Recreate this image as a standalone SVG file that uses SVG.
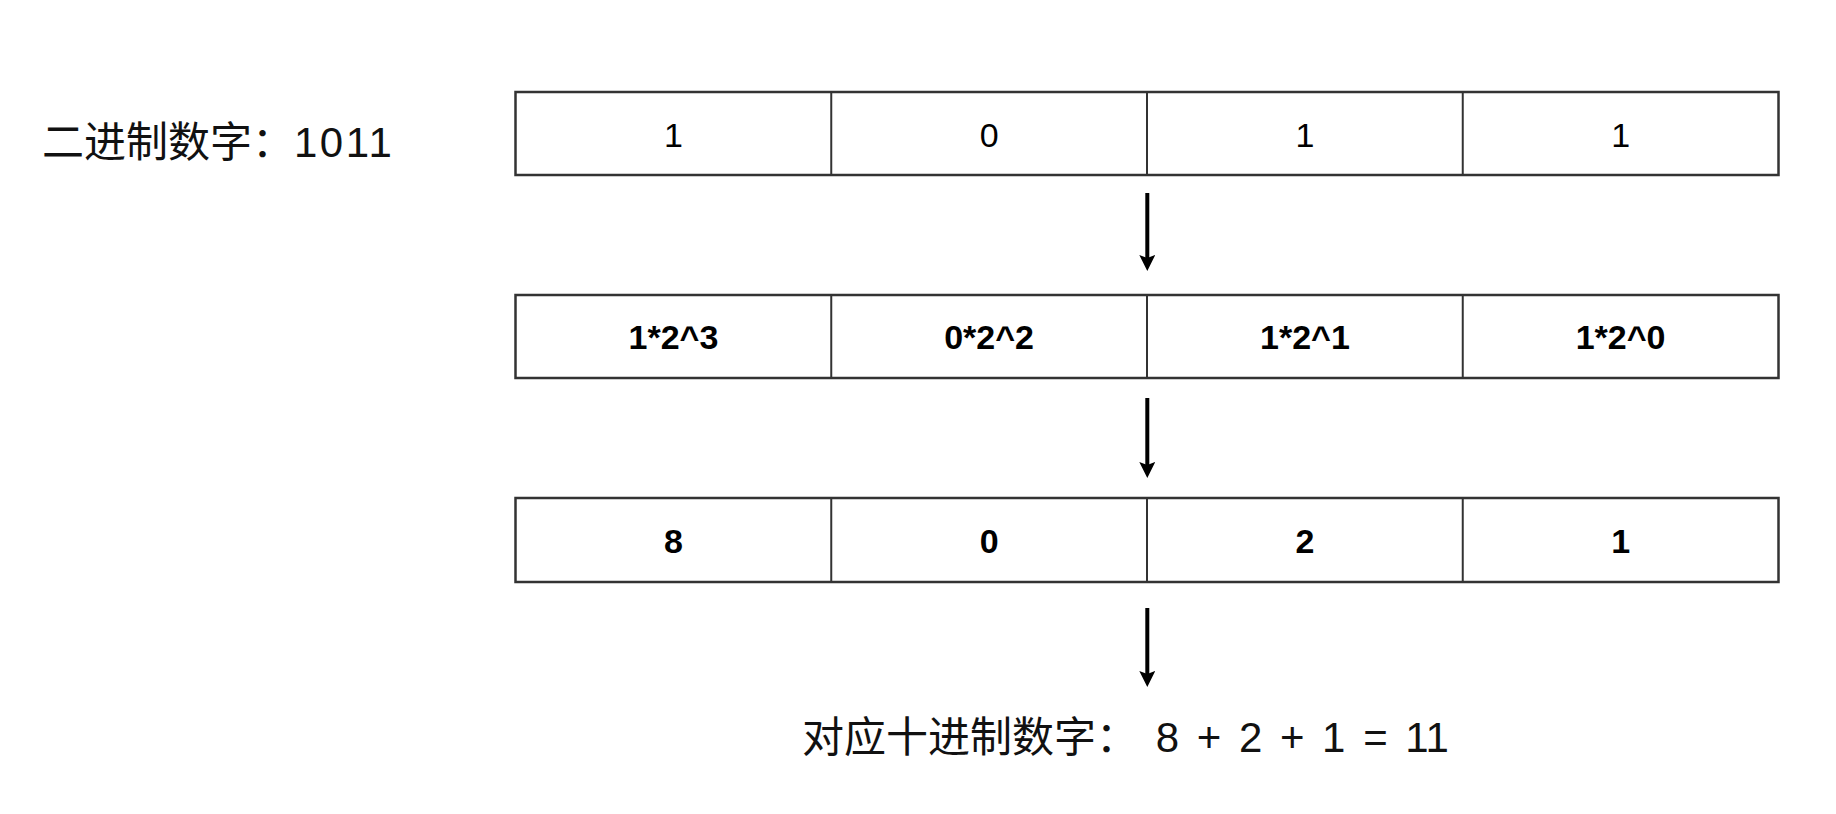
<svg xmlns="http://www.w3.org/2000/svg" width="1836" height="814" viewBox="0 0 1836 814">
  <style>
    .frame { fill: #ffffff; stroke: #333333; stroke-width: 2.5; }
    .div { stroke: #333333; stroke-width: 2; }
    .cell { font-family: "Liberation Sans", Arial, sans-serif; font-size: 34px; fill: #000000; text-anchor: middle; }
    .bold { font-weight: bold; }
    .label { font-family: "Liberation Sans", "Noto Sans CJK SC", sans-serif; font-size: 42px; fill: #111111; }
    .arrow { stroke: #000000; stroke-width: 4; fill: none; marker-end: url(#head); }
  </style>
  <defs>
    <marker id="head" markerUnits="userSpaceOnUse" markerWidth="16" markerHeight="16" viewBox="0 0 16 16" refX="10" refY="8" orient="auto">
      <path d="M0,0 L16,8 L0,16 L3,8 Z" fill="#000000"/>
    </marker>
  </defs>
  <rect width="1836" height="814" fill="#ffffff"/>

  <g id="label-binary">
    <text class="label" x="42" y="157">二进制数字：<tspan style="letter-spacing:2.5px">1011</tspan></text>
  </g>

  <g id="row-bits">
    <rect class="frame" x="515.5" y="92" width="1263" height="83"/>
    <line class="div" x1="831.25" y1="92" x2="831.25" y2="175"/>
    <line class="div" x1="1147" y1="92" x2="1147" y2="175"/>
    <line class="div" x1="1462.75" y1="92" x2="1462.75" y2="175"/>
    <text class="cell" x="673.4" y="146.5">1</text>
    <text class="cell" x="989.1" y="146.5">0</text>
    <text class="cell" x="1304.9" y="146.5">1</text>
    <text class="cell" x="1620.6" y="146.5">1</text>
  </g>

  <g id="row-powers">
    <rect class="frame" x="515.5" y="295" width="1263" height="83"/>
    <line class="div" x1="831.25" y1="295" x2="831.25" y2="378"/>
    <line class="div" x1="1147" y1="295" x2="1147" y2="378"/>
    <line class="div" x1="1462.75" y1="295" x2="1462.75" y2="378"/>
    <text class="cell bold" x="673.4" y="349">1*2^3</text>
    <text class="cell bold" x="989.1" y="349">0*2^2</text>
    <text class="cell bold" x="1304.9" y="349">1*2^1</text>
    <text class="cell bold" x="1620.6" y="349">1*2^0</text>
  </g>

  <g id="row-values">
    <rect class="frame" x="515.5" y="498" width="1263" height="84"/>
    <line class="div" x1="831.25" y1="498" x2="831.25" y2="582"/>
    <line class="div" x1="1147" y1="498" x2="1147" y2="582"/>
    <line class="div" x1="1462.75" y1="498" x2="1462.75" y2="582"/>
    <text class="cell bold" x="673.4" y="553">8</text>
    <text class="cell bold" x="989.1" y="553">0</text>
    <text class="cell bold" x="1304.9" y="553">2</text>
    <text class="cell bold" x="1620.6" y="553">1</text>
  </g>

  <g id="label-decimal">
    <text class="label" x="802" y="752" style="word-spacing:6px">对应十进制数字： 8 + 2 + 1 = 11</text>
  </g>

  <g id="connectors">
    <line class="arrow" x1="1147.3" y1="193" x2="1147.3" y2="265"/>
    <line class="arrow" x1="1147.3" y1="398" x2="1147.3" y2="472"/>
    <line class="arrow" x1="1147.3" y1="608" x2="1147.3" y2="681"/>
  </g>
</svg>
